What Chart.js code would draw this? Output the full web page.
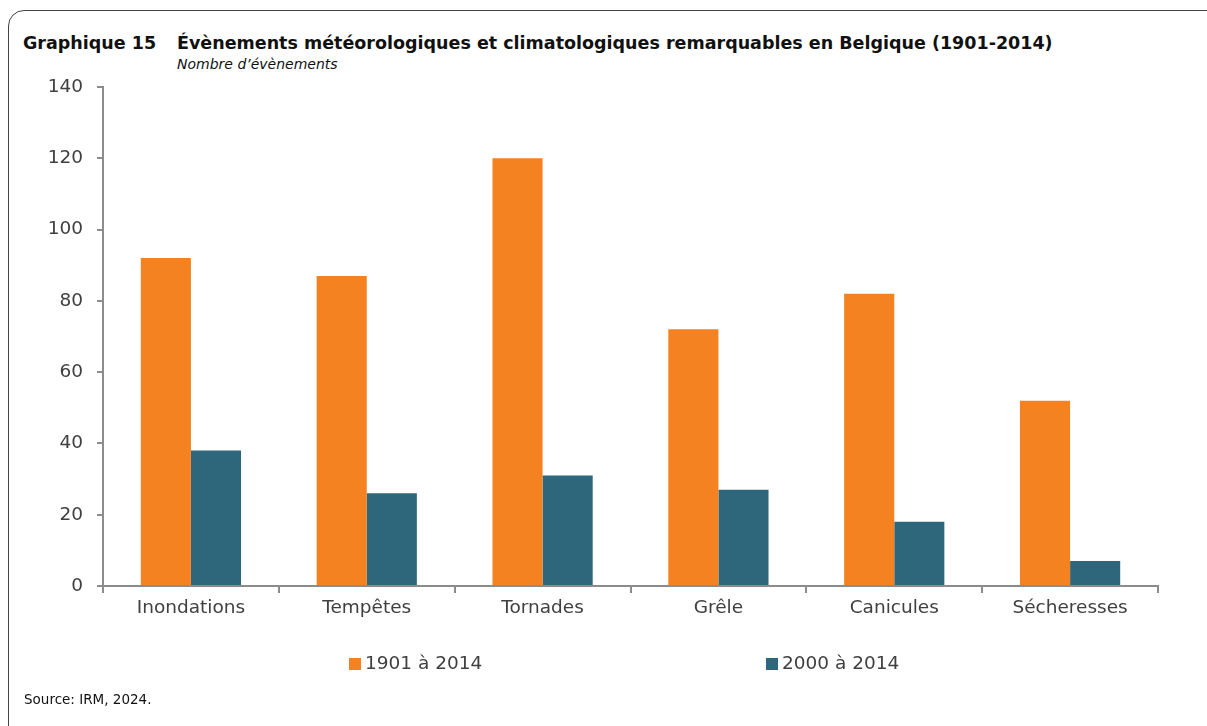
<!DOCTYPE html>
<html>
<head>
<meta charset="utf-8">
<script src="https://cdn.jsdelivr.net/npm/chart.js@4/dist/chart.umd.min.js"></script>
<style>
    html, body { margin: 0; padding: 0; background: #fff; }
    body { width: 1207px; height: 726px; position: relative; overflow: hidden; font-family: "DejaVu Sans", sans-serif; }
    .frame { position: absolute; left: 8px; top: 10px; width: 1400px; height: 900px; border: 1.5px solid #444; border-radius: 16px; }
    .title { position: absolute; left: 23px; top: 33px; font-weight: bold; font-size: 17.5px; color: #111; white-space: nowrap; }
    .title .num { display: inline-block; width: 154px; }
    .subtitle { position: absolute; left: 177px; top: 56px; font-style: italic; font-size: 14px; color: #111; white-space: nowrap; }
    .source { position: absolute; left: 24px; top: 691px; font-size: 13.5px; color: #111; white-space: nowrap; }
    #chartWrap { position: absolute; left: 0; top: 0; width: 1207px; height: 726px; }
    .legend { position: absolute; top: 652px; font-size: 18.5px; color: #404040; white-space: nowrap; }
    .legend span.box { display: inline-block; width: 12px; height: 12px; margin-right: 4px; vertical-align: -1px; }
</style>
</head>
<body>
<div class="frame"></div>
<div class="title"><span class="num">Graphique 15</span>Évènements météorologiques et climatologiques remarquables en Belgique (1901-2014)</div>
<div class="subtitle">Nombre d’évènements</div>
<div id="chartWrap"><canvas id="chart" width="1207" height="726"></canvas></div>
<div id="legend"></div>
<div class="source">Source: IRM, 2024.</div>
<script>
const categories = ['Inondations', 'Tempêtes', 'Tornades', 'Grêle', 'Canicules', 'Sécheresses'];
const seriesNames = ['1901 à 2014', '2000 à 2014'];
const values1901 = [92, 87, 120, 72, 82, 52];
const values2000 = [38, 26, 31, 27, 18, 7];
const yTicks = [0, 20, 40, 60, 80, 100, 120, 140];

const colors = ['#f58220', '#2e677c'];
const legendLeft = [349, 766];

const ctx = document.getElementById('chart').getContext('2d');
Chart.defaults.font.family = '"DejaVu Sans", sans-serif';

new Chart(ctx, {
    type: 'bar',
    data: {
        labels: categories,
        datasets: [
            { label: seriesNames[0], data: values1901, backgroundColor: colors[0], borderWidth: 0 },
            { label: seriesNames[1], data: values2000, backgroundColor: colors[1], borderWidth: 0 }
        ]
    },
    options: {
        responsive: false,
        animation: false,
        layout: { padding: { left: 8, top: 87, right: 49, bottom: 0 } },
        plugins: { legend: { display: false }, tooltip: { enabled: false } },
        datasets: { bar: { categoryPercentage: 0.57, barPercentage: 1 } },
        scales: {
            x: {
                grid: { offset: true, drawOnChartArea: false, tickLength: 7, color: '#8c8c8c', lineWidth: 2 },
                border: { color: '#8c8c8c', width: 2 },
                ticks: { color: '#404040', font: { size: 18.5 }, padding: 4 },
                afterFit: function(scale) { scale.height = 140; }
            },
            y: {
                min: 0,
                max: 140,
                afterBuildTicks: function(scale) { scale.ticks = yTicks.map(v => ({ value: v })); },
                grid: { drawOnChartArea: false, tickLength: 6, color: '#8c8c8c', lineWidth: 2 },
                border: { color: '#8c8c8c', width: 2 },
                ticks: { color: '#404040', font: { size: 18.5 }, padding: 14 },
                afterFit: function(scale) { scale.width = 95; }
            }
        }
    }
});

// legend placed like the original (items far apart)
const legendEl = document.getElementById('legend');
seriesNames.forEach((name, i) => {
    const item = document.createElement('div');
    item.className = 'legend';
    item.style.left = legendLeft[i] + 'px';
    item.innerHTML = `<span class="box" style="background:${colors[i]}"></span>${name}`;
    legendEl.appendChild(item);
});
</script>
</body>
</html>
